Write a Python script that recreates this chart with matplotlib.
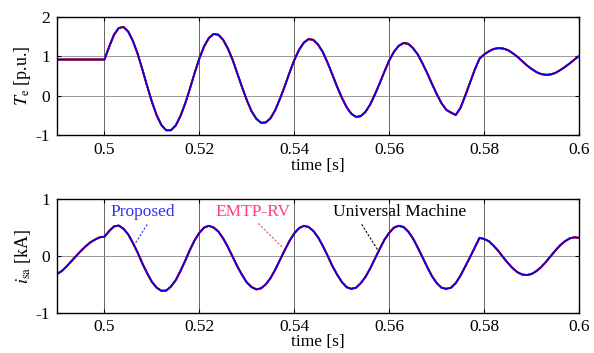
import numpy as np
import matplotlib
matplotlib.use("Agg")
import matplotlib.pyplot as plt

plt.rcParams['font.family'] = ['Liberation Serif', 'DejaVu Serif']
plt.rcParams['mathtext.fontset'] = 'stix'
plt.rcParams['axes.unicode_minus'] = False

# time axis, 1 ms steps
t = np.round(np.arange(0.490, 0.6005, 0.001), 3)

# electromagnetic torque [p.u.] (all three models overlap)
te = [0.92, 0.92, 0.92, 0.92, 0.92, 0.92, 0.92, 0.92, 0.92, 0.92, 0.92,
      1.25, 1.55, 1.72, 1.75, 1.63, 1.39, 1.06, 0.66, 0.24, -0.16,
      -0.50, -0.75, -0.88, -0.88, -0.76, -0.52, -0.20, 0.18, 0.58, 0.95,
      1.26, 1.47, 1.57, 1.55, 1.42, 1.20, 0.91, 0.56, 0.21, -0.12,
      -0.40, -0.59, -0.69, -0.68, -0.57, -0.36, -0.07, 0.25, 0.59, 0.91,
      1.17, 1.35, 1.44, 1.42, 1.30, 1.11, 0.84, 0.54, 0.23, -0.05,
      -0.29, -0.46, -0.54, -0.52, -0.41, -0.22, 0.04, 0.32, 0.62, 0.90,
      1.12, 1.27, 1.34, 1.32, 1.21, 1.05, 0.82, 0.57, 0.30, 0.04,
      -0.19, -0.36, -0.43, -0.49, -0.31, 0.00, 0.33, 0.66, 0.94, 1.05,
      1.13, 1.19, 1.21, 1.20, 1.16, 1.08, 0.99, 0.88, 0.77, 0.68,
      0.60, 0.55, 0.53, 0.54, 0.58, 0.65, 0.73, 0.82, 0.92, 1.01]

# stator current phase a [kA]
isa = [-0.31, -0.26, -0.18, -0.09, 0.00, 0.09, 0.17, 0.24, 0.29, 0.33, 0.34,
       0.44, 0.52, 0.535, 0.48, 0.38, 0.23, 0.06, -0.13, -0.30, -0.45,
       -0.55, -0.605, -0.60, -0.53, -0.42, -0.26, -0.08, 0.11, 0.28, 0.41,
       0.50, 0.53, 0.50, 0.43, 0.31, 0.16, -0.01, -0.18, -0.33, -0.46,
       -0.54, -0.58, -0.56, -0.49, -0.38, -0.23, -0.06, 0.11, 0.27, 0.40,
       0.49, 0.53, 0.51, 0.44, 0.33, 0.18, 0.01, -0.17, -0.32, -0.45,
       -0.54, -0.57, -0.55, -0.47, -0.36, -0.21, -0.04, 0.13, 0.29, 0.41,
       0.50, 0.53, 0.51, 0.43, 0.31, 0.15, -0.02, -0.19, -0.35, -0.47,
       -0.55, -0.57, -0.55, -0.47, -0.34, -0.18, -0.02, 0.15, 0.32, 0.30,
       0.26, 0.18, 0.09, -0.02, -0.12, -0.21, -0.28, -0.32, -0.33, -0.31,
       -0.26, -0.19, -0.10, 0.00, 0.10, 0.19, 0.26, 0.31, 0.33, 0.32]

xticks = [0.5, 0.52, 0.54, 0.56, 0.58, 0.6]
xticklabels = ['0.5', '0.52', '0.54', '0.56', '0.58', '0.6']

fig = plt.figure(figsize=(5.94, 3.53), dpi=100)
ax1 = fig.add_axes([0.096, 0.6176, 0.879, 0.334])
ax2 = fig.add_axes([0.096, 0.112, 0.879, 0.3245])

for ax, y in [(ax1, te), (ax2, isa)]:
    ax.plot(t, y, color='black', lw=1.4)
    ax.plot(t, y, color='red', lw=1.4)
    ax.plot(t, y, color='blue', lw=1.1)
    ax.set_xlim(0.49, 0.6)
    ax.set_xticks(xticks)
    ax.set_xticklabels(xticklabels)
    ax.grid(True, axis='x', color='#666666', lw=0.7)
    ax.grid(True, axis='y', color='#999999', lw=0.7)
    ax.tick_params(direction='in', top=True, right=True, labelsize=12.5, length=3, pad=5)
    for s in ax.spines.values():
        s.set_linewidth(1.0)

ax2.tick_params(axis='x', pad=4)
ax1.set_xlabel('time [s]', fontsize=12.5, labelpad=0)
ax2.set_xlabel('time [s]', fontsize=12.5, labelpad=-0.5)

ax1.set_ylim(-1, 2)
ax1.set_yticks([-1, 0, 1, 2])
ax1.set_ylabel(r'$T_{\rm e}$ [p.u.]', fontsize=13, labelpad=2)

ax2.set_ylim(-1, 1)
ax2.set_yticks([-1, 0, 1])
ax2.set_ylabel(r'$i_{\rm sa}$ [kA]', fontsize=13, labelpad=2)

# annotations with dashed leaders
ax2.text(0.5080, 0.78, 'Proposed', color='#3333ee', fontsize=12.5, ha='center', va='center')
ax2.plot([0.5090, 0.5064], [0.556, 0.214], color='#3333ee', lw=0.8, ls=(0, (2, 1.5)))
ax2.text(0.5313, 0.78, 'EMTP-RV', color='#ff3c8c', fontsize=12.5, ha='center', va='center')
ax2.plot([0.5324, 0.5376], [0.573, 0.145], color='#ff3c8c', lw=0.8, ls=(0, (2, 1.5)))
ax2.text(0.5621, 0.78, 'Universal Machine', color='black', fontsize=12.5, ha='center', va='center')
ax2.plot([0.5542, 0.5575], [0.556, 0.116], color='black', lw=0.8, ls=(0, (2, 1.5)))

fig.savefig('out.png', dpi=100)
